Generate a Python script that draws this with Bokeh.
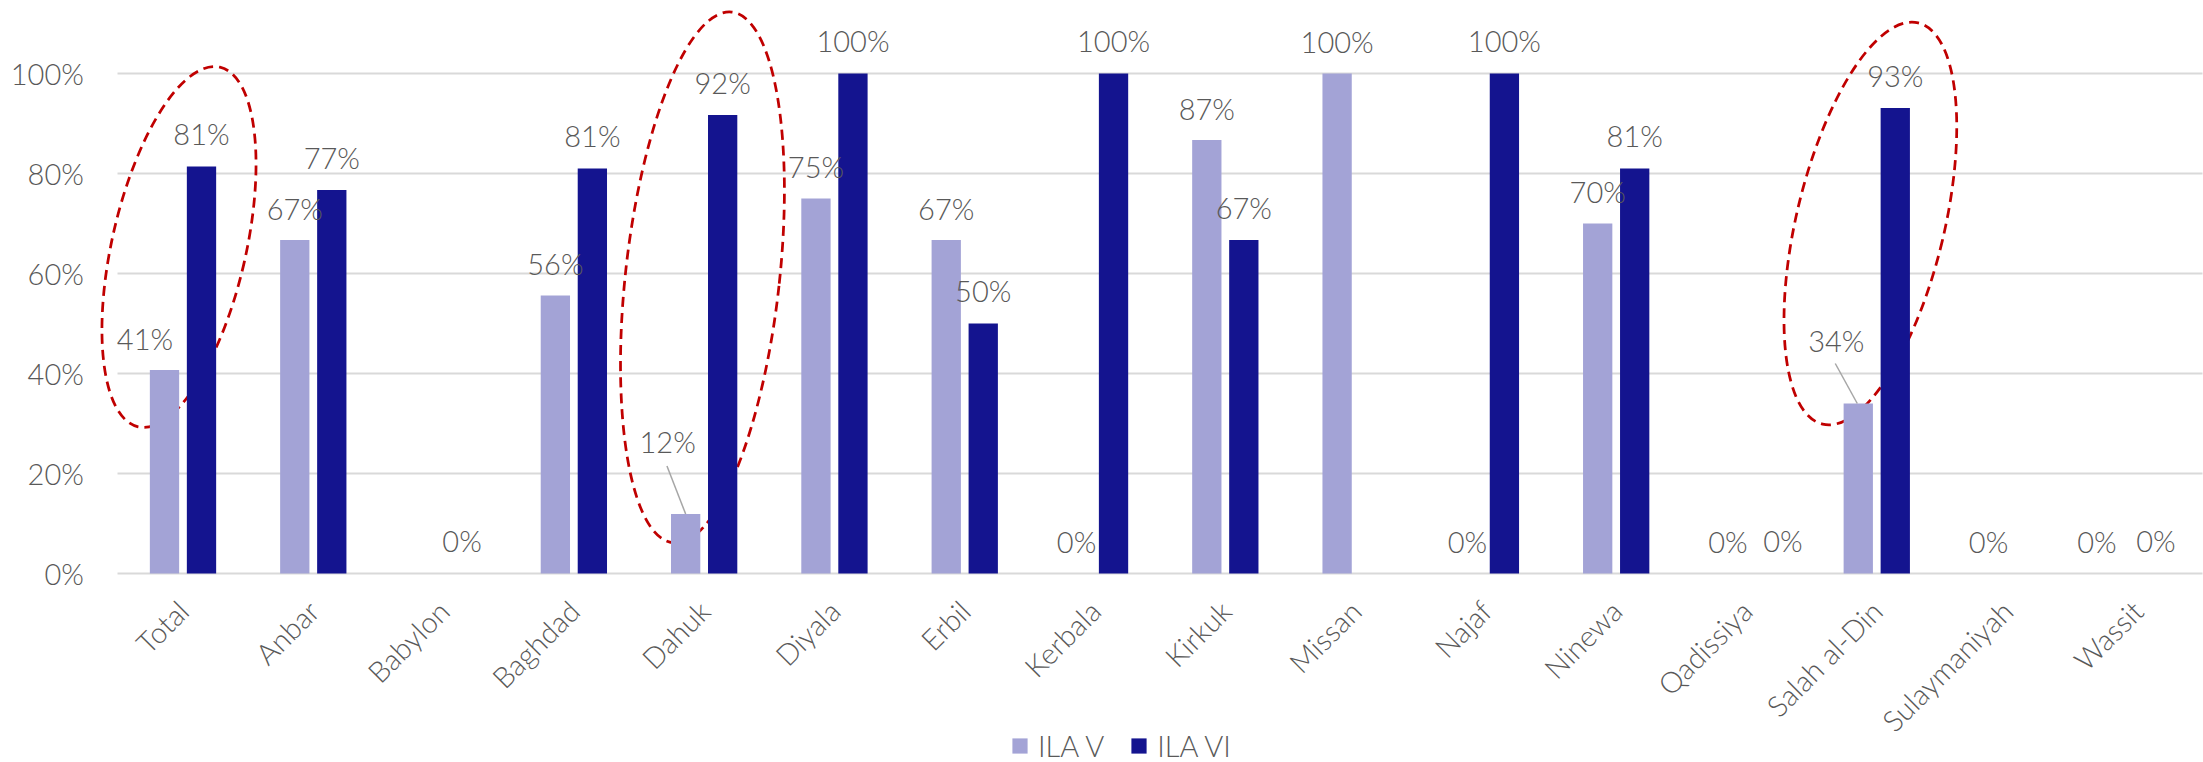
import math
from bokeh.plotting import figure
from bokeh.models import ColumnDataSource, Range1d, FixedTicker, Legend, LegendItem
from bokeh.core.properties import value
from bokeh.embed import file_html
from bokeh.resources import INLINE

# ---------------- data ----------------
categories = ["Total", "Anbar", "Babylon", "Baghdad", "Dahuk", "Diyala", "Erbil",
              "Kerbala", "Kirkuk", "Missan", "Najaf", "Ninewa", "Qadissiya",
              "Salah al-Din", "Sulaymaniyah", "Wassit"]
ila_v = [0.407, 0.667, None, 0.556, 0.119, 0.75, 0.667, 0.0, 0.867, 1.0, 0.0,
         0.70, 0.0, 0.34, 0.0, 0.0]
ila_vi = [0.814, 0.767, 0.0, 0.81, 0.917, 1.0, 0.5, 1.0, 0.667, None, 1.0,
          0.81, 0.0, 0.931, None, 0.0]
series_names = ["ILA V", "ILA VI"]
y_ticks = [0, 0.2, 0.4, 0.6, 0.8, 1.0]
y_tick_labels = ["0%", "20%", "40%", "60%", "80%", "100%"]
highlighted = ["Total", "Dahuk", "Salah al-Din"]

# ---------------- style / layout ----------------
W, H = 2203, 762
PLOT_LEFT_PX = 117.35      # where the category band starts
ZERO_PX = 573.0            # y pixel (from top) of 0%
PX_X = (W - 1 - PLOT_LEFT_PX) / len(categories)   # px per category
PX_Y = 500.0                                      # px per 100%
X0 = -0.5 - PLOT_LEFT_PX / PX_X
X1 = -0.5 + (W - PLOT_LEFT_PX) / PX_X
Y1 = ZERO_PX / PX_Y
Y0 = -(H - ZERO_PX) / PX_Y

FONT = "Lato Light"
FS = "29px"
TXT = "#595959"
C_V = "#A3A3D6"
C_VI = "#14148F"
GRID = "#D9D9D9"
RED = "#C00000"
DODGE = 18.5 / PX_X
BAR_W = 29.3 / PX_X

# label offsets (px) per bar
v_lab_dx = [-19.5, 0, 0, 0, -18, 0, 0, 0, 0, 0, 0, 0, 0, -22, 0, -22]
v_lab_dy = [-32, -32, -32, -32, -73, -32, -32, -32, -32, -32, -32, -32, -32, -63, -32, -32]
vi_lab_dx = [0, 0, 0, 0, 0, 0, 0, 0, 0, 0, 0, 0, 18, 0, 0, 0]
vi_lab_dy = [-33] * len(categories)
# leader lines for ILA V (start offset px relative to bar top centre)
leader_cats = ["Dahuk", "Salah al-Din"]
leader_dx = [-18.7, -23]
leader_dy = [-48, -40]
leader_end_dx = [0, -1]
# ellipses
ell_dx = [-4, -1.7, -6.4]
ell_y = [0.653, 0.592, 0.70]
ell_w = [134, 154, 148]
ell_h = [369, 534, 413]
ell_tilt = [12.8, 6.3, 13.4]

xs = list(range(len(categories)))

def nan(v):
    return float("nan") if v is None else v

p = figure(width=W, height=H, output_backend="svg", toolbar_location=None,
           x_range=Range1d(X0, X1), y_range=Range1d(Y0, Y1),
           min_border_left=0, min_border_right=0, min_border_top=0, min_border_bottom=0,
           outline_line_color=None, background_fill_color="white",
           border_fill_color="white")

# gridlines limited to the category band
try:
    p.ygrid.cross_bounds = (-0.5, len(categories) - 0.5)
    p.ygrid.ticker = FixedTicker(ticks=y_ticks)
    p.ygrid.grid_line_color = GRID
    p.ygrid.grid_line_width = 2
except Exception:
    p.ygrid.grid_line_color = None
    p.segment(x0=[-0.5] * len(y_ticks), y0=y_ticks, x1=[len(categories) - 0.5] * len(y_ticks),
              y1=y_ticks, line_color=GRID, line_width=2)
p.xgrid.grid_line_color = None

# dashed ellipses (drawn beneath the bars)
ex_ = [categories.index(c) + dx / PX_X for c, dx in zip(highlighted, ell_dx)]
p.ellipse(x=ex_, y=ell_y, width=ell_w, height=ell_h, width_units="screen",
          height_units="screen", angle=[-math.radians(a) for a in ell_tilt],
          fill_color=None, line_color=RED, line_width=2.75, line_dash="10 6")

src_v = ColumnDataSource(dict(x=[i - DODGE for i in xs], top=[nan(v) for v in ila_v]))
src_vi = ColumnDataSource(dict(x=[i + DODGE for i in xs], top=[nan(v) for v in ila_vi]))
r_v = p.vbar(x="x", top="top", width=BAR_W, source=src_v, fill_color=C_V, line_color=None)
r_vi = p.vbar(x="x", top="top", width=BAR_W, source=src_vi, fill_color=C_VI, line_color=None)

# data labels
def labels(vals, dodge, dxs, dys):
    d = dict(x=[], y=[], t=[], dx=[], dy=[])
    for i, v in enumerate(vals):
        if v is None:
            continue
        d["x"].append(i + dodge)
        d["y"].append(v)
        d["t"].append(f"{round(v * 100)}%")
        d["dx"].append(dxs[i])
        d["dy"].append(dys[i])
    return ColumnDataSource(d)

for s in (labels(ila_v, -DODGE, v_lab_dx, v_lab_dy), labels(ila_vi, DODGE, vi_lab_dx, vi_lab_dy)):
    p.text(x="x", y="y", text="t", x_offset="dx", y_offset="dy", source=s,
           text_align="center", text_baseline="alphabetic", text_color=TXT,
           text_font=value(FONT), text_font_size=FS)

# leader lines
lx0, ly0, lx1, ly1 = [], [], [], []
for c, dx, dy, ex in zip(leader_cats, leader_dx, leader_dy, leader_end_dx):
    i = categories.index(c)
    bx = i - DODGE
    lx0.append(bx + dx / PX_X)
    ly0.append(ila_v[i] - dy / PX_Y)
    lx1.append(bx + ex / PX_X)
    ly1.append(ila_v[i])
p.segment(x0=lx0, y0=ly0, x1=lx1, y1=ly1, line_color="#A6A6A6", line_width=1.5)

# axes (drawn at fixed data locations inside the full-canvas frame)
p.yaxis.fixed_location = -0.5
p.yaxis.ticker = FixedTicker(ticks=y_ticks)
p.yaxis.major_label_overrides = {t: l for t, l in zip(y_ticks, y_tick_labels)}
p.yaxis.axis_line_color = None
p.yaxis.major_tick_line_color = None
p.yaxis.minor_tick_line_color = None
p.yaxis.major_label_standoff = 28
p.yaxis.major_label_text_font = FONT
p.yaxis.major_label_text_font_size = FS
p.yaxis.major_label_text_color = TXT

p.xaxis.fixed_location = 0
p.xaxis.ticker = FixedTicker(ticks=xs)
p.xaxis.major_label_overrides = {i: c for i, c in zip(xs, categories)}
p.xaxis.major_label_orientation = math.pi / 4
p.xaxis.axis_line_color = None
p.xaxis.major_tick_line_color = None
p.xaxis.minor_tick_line_color = None
p.xaxis.major_label_standoff = 26
p.xaxis.major_label_text_font = FONT
p.xaxis.major_label_text_font_size = FS
p.xaxis.major_label_text_color = TXT

legend = Legend(items=[LegendItem(label=series_names[0], renderers=[r_v]),
                       LegendItem(label=series_names[1], renderers=[r_vi])],
                location=(1010, -1), orientation="horizontal",
                glyph_width=19, glyph_height=19, label_standoff=9, spacing=25,
                padding=0, margin=0, border_line_color=None, background_fill_alpha=0,
                label_text_font=FONT, label_text_font_size=FS, label_text_color=TXT)
p.add_layout(legend)

open("out.html", "w").write(file_html(p, INLINE))
